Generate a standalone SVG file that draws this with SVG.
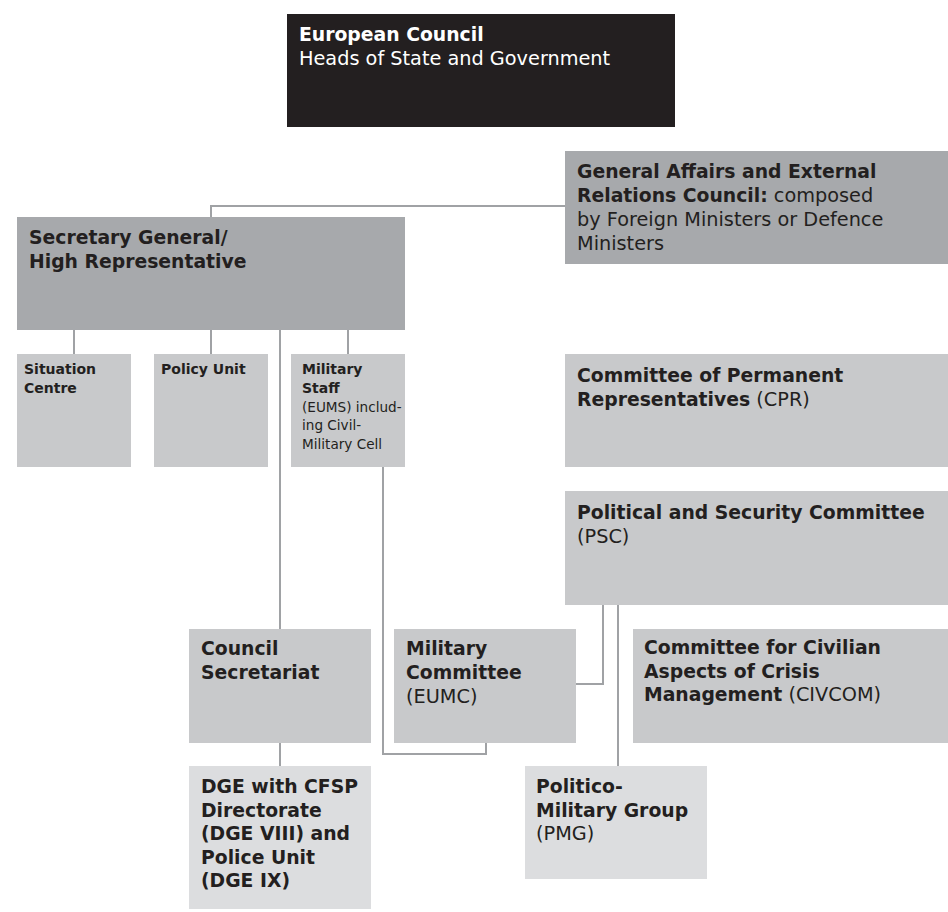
<svg xmlns="http://www.w3.org/2000/svg" width="948" height="912" viewBox="0 0 948 912">
<style>
  text { font-family: "DejaVu Sans", "Open Sans", "Liberation Sans", sans-serif; fill: #231f20; font-size: 19.3px; }
  .big .b { font-size: 18.8px; }
  text.big.b { font-size: 18.8px; }
  .small { font-size: 13.6px; }
  .small .b { font-size: 14px; }
  text.small.b { font-size: 14px; }
  .b { font-weight: 700; }
  .w { fill: #ffffff; }
  .black { fill: #231f20; }
  .dark { fill: #a7a9ac; }
  .mid { fill: #c8c9cb; }
  .light { fill: #dcdddf; }
  .conn { fill: none; stroke: #a0a2a5; stroke-width: 2; }
</style>
<rect width="948" height="912" fill="#ffffff"/>
<g id="connectors">
  <path class="conn" d="M211,217 V206 H565"/>
  <path class="conn" d="M74,330 V354"/>
  <path class="conn" d="M211,330 V354"/>
  <path class="conn" d="M348,330 V354"/>
  <path class="conn" d="M280,330 V629"/>
  <path class="conn" d="M280,743 V766"/>
  <path class="conn" d="M383,467 V754 H486 V743"/>
  <path class="conn" d="M603,605 V684 H576"/>
  <path class="conn" d="M618,605 V766"/>
</g>
<g id="european-council">
  <rect class="black" x="287" y="14" width="388" height="113"/>
  <text class="big w"><tspan class="b" x="299" y="41">European Council</tspan><tspan x="299" y="65">Heads of State and Government</tspan></text>
</g>
<g id="gaerc">
  <rect class="dark" x="565" y="151" width="383" height="113"/>
  <text class="big"><tspan class="b" x="577" y="178">General Affairs and External</tspan><tspan x="577" y="202"><tspan class="b">Relations Council:</tspan> composed</tspan><tspan x="577" y="226">by Foreign Ministers or Defence</tspan><tspan x="577" y="250">Ministers</tspan></text>
</g>
<g id="sg-hr">
  <rect class="dark" x="17" y="217" width="388" height="113"/>
  <text class="big b"><tspan x="29" y="244">Secretary General/</tspan><tspan x="29" y="268">High Representative</tspan></text>
</g>
<g id="situation-centre">
  <rect class="mid" x="17" y="354" width="114" height="113"/>
  <text class="small b"><tspan x="24" y="374">Situation</tspan><tspan x="24" y="393">Centre</tspan></text>
</g>
<g id="policy-unit">
  <rect class="mid" x="154" y="354" width="114" height="113"/>
  <text class="small b"><tspan x="161" y="374">Policy Unit</tspan></text>
</g>
<g id="military-staff">
  <rect class="mid" x="291" y="354" width="114" height="113"/>
  <text class="small"><tspan class="b" x="302" y="374">Military</tspan><tspan class="b" x="302" y="393">Staff</tspan><tspan x="302" y="411.5">(EUMS) includ-</tspan><tspan x="302" y="430">ing Civil-</tspan><tspan x="302" y="448.5">Military Cell</tspan></text>
</g>
<g id="coreper">
  <rect class="mid" x="565" y="354" width="383" height="113"/>
  <text class="big"><tspan class="b" x="577" y="382">Committee of Permanent</tspan><tspan x="577" y="406"><tspan class="b">Representatives</tspan> (CPR)</tspan></text>
</g>
<g id="psc">
  <rect class="mid" x="565" y="491" width="383" height="114"/>
  <text class="big"><tspan class="b" x="577" y="519">Political and Security Committee</tspan><tspan x="577" y="543">(PSC)</tspan></text>
</g>
<g id="council-secretariat">
  <rect class="mid" x="189" y="629" width="182" height="114"/>
  <text class="big b"><tspan x="201" y="655">Council</tspan><tspan x="201" y="679">Secretariat</tspan></text>
</g>
<g id="eumc">
  <rect class="mid" x="394" y="629" width="182" height="114"/>
  <text class="big"><tspan class="b" x="406" y="655">Military</tspan><tspan class="b" x="406" y="679">Committee</tspan><tspan x="406" y="703">(EUMC)</tspan></text>
</g>
<g id="civcom">
  <rect class="mid" x="633" y="629" width="315" height="114"/>
  <text class="big"><tspan class="b" x="644" y="654">Committee for Civilian</tspan><tspan class="b" x="644" y="678">Aspects of Crisis</tspan><tspan x="644" y="701"><tspan class="b">Management</tspan> (CIVCOM)</tspan></text>
</g>
<g id="dge">
  <rect class="light" x="189" y="766" width="182" height="143"/>
  <text class="big b"><tspan x="201" y="793">DGE with CFSP</tspan><tspan x="201" y="817">Directorate</tspan><tspan x="201" y="840">(DGE VIII) and</tspan><tspan x="201" y="864">Police Unit</tspan><tspan x="201" y="887">(DGE IX)</tspan></text>
</g>
<g id="pmg">
  <rect class="light" x="525" y="766" width="182" height="113"/>
  <text class="big"><tspan class="b" x="536" y="793">Politico-</tspan><tspan class="b" x="536" y="817">Military Group</tspan><tspan x="536" y="840">(PMG)</tspan></text>
</g>
</svg>
